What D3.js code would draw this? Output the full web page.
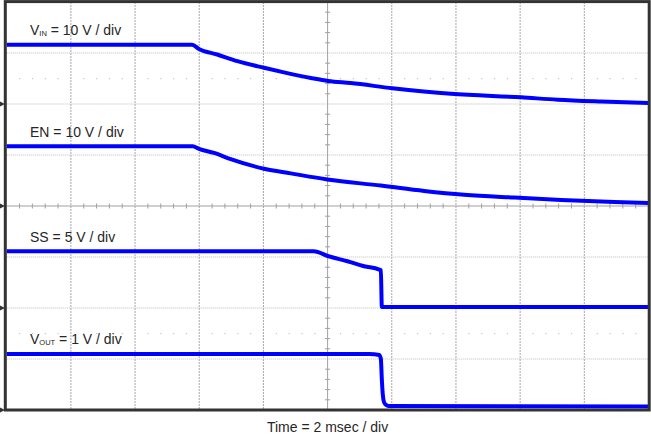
<!DOCTYPE html>
<html>
<head>
<meta charset="utf-8">
<title>Power-down waveforms</title>
<style>
  body { margin: 0; background: #fff; }
  text { font-family: "Liberation Sans", Arial, sans-serif; fill: #262626; }
</style>
</head>
<body>
<svg width="651" height="434"></svg>
<script src="https://d3js.org/d3.v7.min.js"></script>
<script>
// ---- data (time in ms, values in volts) ----
var vinT  = [0, 5.78, 5.99, 6.56, 7.19, 8.02, 8.64, 9.48, 10.02, 10.72, 12.02, 13.84, 16.03, 17.17, 18.52, 20];
var vinV  = [11.6, 11.6, 10.8, 9.7, 8.4, 7.1, 6.2, 5.1, 4.5, 4.1, 3.1, 2.0, 1.3, 0.85, 0.5, 0.2];

var enT   = [0, 5.8, 5.99, 6.46, 6.98, 8.02, 8.85, 9.99, 11.66, 13.01, 14.26, 15.82, 17.28, 18.94, 20];
var enV   = [11.7, 11.7, 11.2, 10.4, 9.2, 7.3, 6.4, 5.2, 4.0, 2.95, 2.2, 1.65, 1.2, 0.8, 0.6];

var ssT   = [0, 9.57, 10.03, 10.62, 11.14, 11.61, 11.66, 11.69, 20];
var ssV   = [5.56, 5.56, 5.07, 4.58, 4.09, 3.77, 3.7, 0.1, 0.1];

var voutT = [0, 11.3, 11.61, 11.66, 11.69, 11.72, 11.76, 11.82, 11.9, 20];
var voutV = [1.1, 1.1, 1.08, 1.0, 0.6, 0.3, 0.15, 0.1, 0.08, 0.07];

var channels = [
  { name: "V", sub: "IN",  label: " = 10 V / div", vdiv: 10, ground: 2, t: vinT,  v: vinV },
  { name: "EN", sub: "",   label: " = 10 V / div", vdiv: 10, ground: 4, t: enT,   v: enV },
  { name: "SS", sub: "",   label: " = 5 V / div",  vdiv: 5,  ground: 6, t: ssT,   v: ssV },
  { name: "V", sub: "OUT", label: " = 1 V / div",  vdiv: 1,  ground: 8, t: voutT, v: voutV }
];
var dotRows = [1.5, 6.5];            // rows of loose marker dots (in divisions)
var xTitle = "Time = 2 msec / div";

var svg = d3.select("svg");

var x = d3.scaleLinear().domain([0, 20]).range([6.7, 648.5]);   // 2 ms/div, 10 div
var xDiv = d3.scaleLinear().domain([0, 10]).range([6.7, 648.5]);
var yDiv = d3.scaleLinear().domain([0, 8]).range([2, 410]);

var grid = svg.append("g");

// dotted division lines
grid.selectAll(".vl").data(d3.range(1, 10).filter(function(i) { return i != 5; }))
  .enter().append("line")
    .attr("x1", function(d) { return xDiv(d); }).attr("x2", function(d) { return xDiv(d); })
    .attr("y1", yDiv(0)).attr("y2", yDiv(8))
    .attr("stroke", "#a8a8a8").attr("stroke-dasharray", "2,1");
grid.selectAll(".hl").data(d3.range(1, 8).filter(function(i) { return i != 4; }))
  .enter().append("line")
    .attr("y1", function(d) { return yDiv(d); }).attr("y2", function(d) { return yDiv(d); })
    .attr("x1", xDiv(0)).attr("x2", xDiv(10))
    .attr("stroke", "#bdbdbd").attr("stroke-dasharray", "1,1");

// loose dots
dotRows.forEach(function(r) {
  grid.selectAll(null).data(d3.range(1, 50).filter(function(i) { return i % 5 != 0; }))
    .enter().append("rect")
      .attr("x", function(d) { return xDiv(d / 5) - 0.5; })
      .attr("y", yDiv(r) - 0.5)
      .attr("width", 1.2).attr("height", 1.2)
      .attr("fill", "#c4c4c4");
});

// centre axes with minor ticks
grid.append("line").attr("x1", xDiv(5)).attr("x2", xDiv(5)).attr("y1", yDiv(0)).attr("y2", yDiv(8))
  .attr("stroke", "#a0a0a0");
grid.append("line").attr("y1", yDiv(4)).attr("y2", yDiv(4)).attr("x1", xDiv(0)).attr("x2", xDiv(10))
  .attr("stroke", "#a0a0a0");
grid.selectAll(".ty").data(d3.range(1, 40).filter(function(i) { return i % 5 != 0; }))
  .enter().append("line")
    .attr("x1", xDiv(5) - 2.5).attr("x2", xDiv(5) + 2.5)
    .attr("y1", function(d) { return yDiv(d / 5); }).attr("y2", function(d) { return yDiv(d / 5); })
    .attr("stroke", "#a0a0a0");
grid.selectAll(".tx").data(d3.range(1, 50).filter(function(i) { return i % 5 != 0; }))
  .enter().append("line")
    .attr("y1", yDiv(4) - 2.5).attr("y2", yDiv(4) + 2.5)
    .attr("x1", function(d) { return xDiv(d / 5); }).attr("x2", function(d) { return xDiv(d / 5); })
    .attr("stroke", "#a0a0a0");

// traces + their labels (label sits just above the flat start of the trace)
channels.forEach(function(c) {
  var y = d3.scaleLinear().domain([0, c.vdiv]).range([yDiv(c.ground), yDiv(c.ground - 1)]);
  var line = d3.line()
    .curve(d3.curveMonotoneX)
    .x(function(d, i) { return x(c.t[i]); })
    .y(function(d) { return y(d); });
  svg.append("path")
    .datum(c.v)
    .attr("fill", "none")
    .attr("stroke", "#0000ff")
    .attr("stroke-width", 4)
    .attr("stroke-linejoin", "round")
    .attr("d", line);

  var lbl = svg.append("text")
    .attr("x", 30)
    .attr("y", y(c.v[0]) - 9.5)
    .attr("font-size", 14);
  lbl.append("tspan").text(c.name);
  if (c.sub) lbl.append("tspan").attr("font-size", 7.5).attr("dy", 1).text(c.sub);
  lbl.append("tspan").attr("dy", c.sub ? -1 : 0).text(c.label);
});

// frame
svg.append("rect")
  .attr("x", 5.3).attr("y", 1.6).attr("width", 643.9).attr("height", 408.4)
  .attr("fill", "none").attr("stroke", "#333").attr("stroke-width", 3);

// ground markers on the left edge
svg.selectAll(".gm").data(channels).enter().append("path")
  .attr("d", function(c) {
    var yy = yDiv(c.ground);
    return "M0," + (yy - 2.5) + "L5," + yy + "L0," + (yy + 2.5) + "Z";
  })
  .attr("fill", "#333");

svg.append("text")
  .attr("x", xDiv(5)).attr("y", 432)
  .attr("text-anchor", "middle")
  .attr("font-size", 14)
  .text(xTitle);
</script>
</body>
</html>
